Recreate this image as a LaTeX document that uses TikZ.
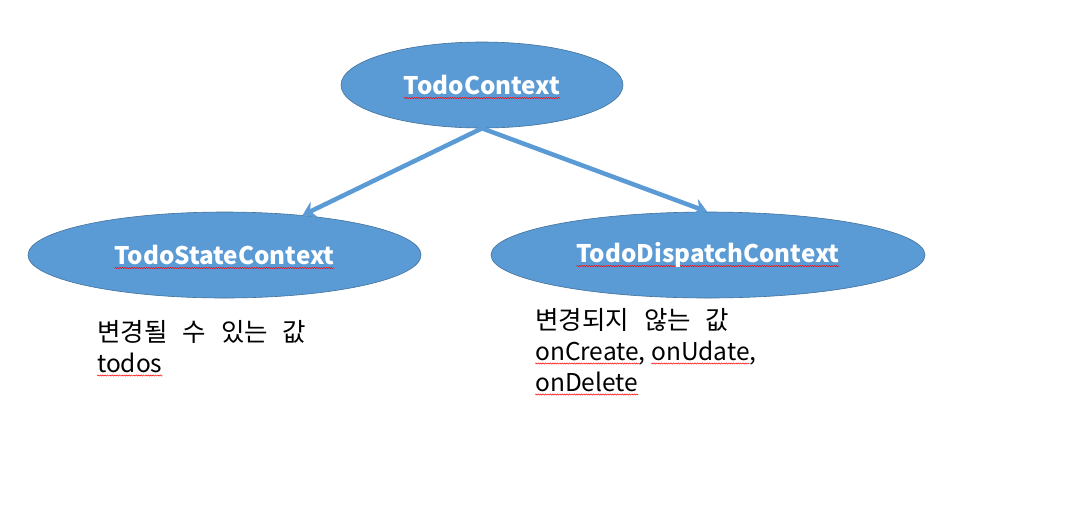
\documentclass[tikz,border=0pt]{standalone}
\usepackage{fontspec}
\usetikzlibrary{shapes.geometric,arrows.meta,decorations.pathmorphing}
\setmainfont{Noto Sans CJK KR}
\definecolor{ctxblue}{HTML}{5B9BD5}
\definecolor{ctxedge}{HTML}{41719C}
\newcommand\spell[1]{\setbox0=\hbox{#1}\leavevmode\rlap{\tikz[overlay,baseline=0pt]\draw[red,line width=0.5pt,decorate,decoration={snake,amplitude=0.6pt,segment length=2.4pt}] (0pt,-3.5pt) -- (\the\wd0,-3.5pt);}\box0}
\newcommand\widesp{\fontsize{25.5}{31}\selectfont\spaceskip=15pt\relax}

\begin{document}
\begin{tikzpicture}[x=1pt,y=1pt]
\tikzset{ctxnode/.style={ellipse,fill=ctxblue,draw=ctxedge,line width=0.6pt,inner sep=0pt,minimum height=86pt,text=white,font=\fontsize{24.2}{28}\selectfont\bfseries}}
\tikzset{ctxarrow/.style={draw=ctxblue,line width=4.5pt,-{Stealth[length=13pt,width=17pt]}}}
\tikzset{note/.style={align=left,anchor=base west,inner sep=0pt,font=\fontsize{24.5}{31}\selectfont}}
\useasboundingbox (0,0) rectangle (1067,-515);
\node [ctxnode,minimum width=282pt] (ctx) at (482,-85) {\spell{TodoContext}};
\node [ctxnode,minimum width=393pt] (state) at (224.5,-255) {\spell{TodoStateContext}};
\node [ctxnode,minimum width=434pt] (dispatch) at (708,-255) {\spell{TodoDispatchContext}};
\draw [ctxarrow] (ctx.south) -- (state.27);
\draw [ctxarrow] (ctx.south) -- (dispatch.91);
\node [note] (statenote) at (97,-372) {{\widesp 변경될 수 있는 값}\\\spell{todos}};
\node [note] (dispatchnote) at (535,-391) {{\widesp 변경되지 않는 값}\\\spell{onCreate}, \spell{onUdate},\\\spell{onDelete}};
\end{tikzpicture}
\end{document}
